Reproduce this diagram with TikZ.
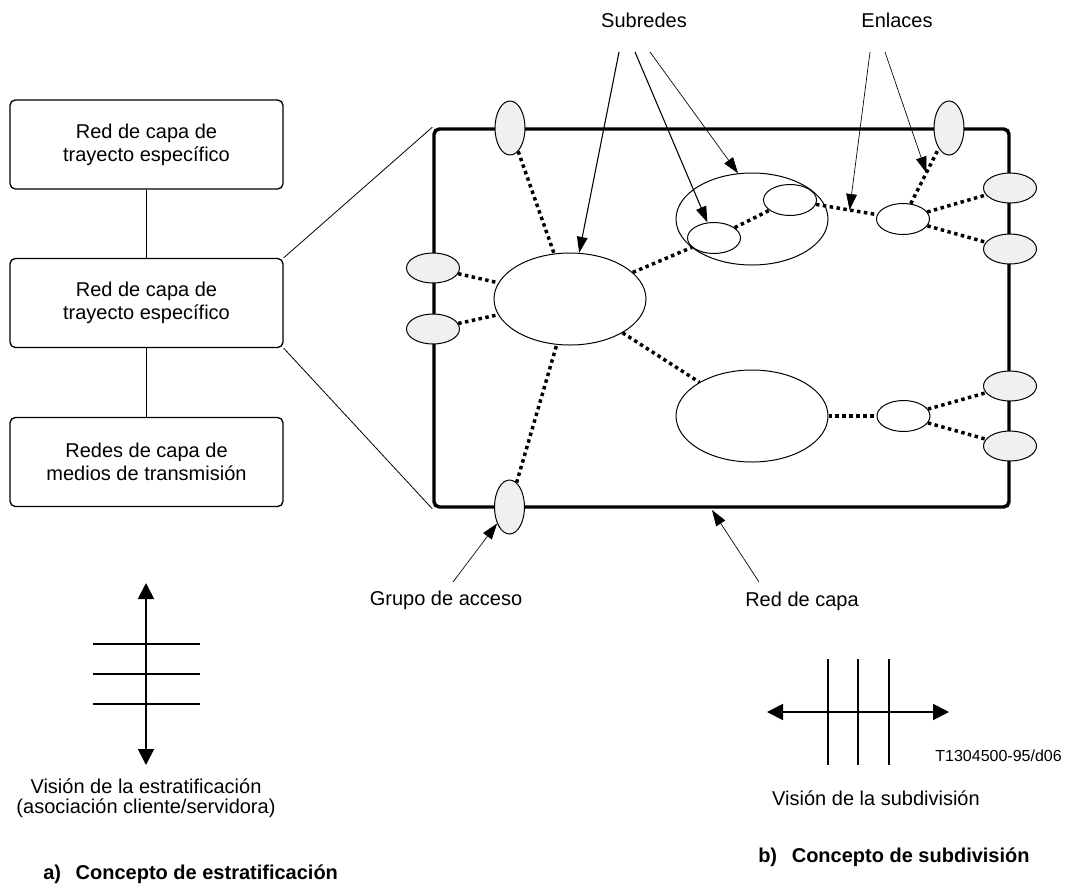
\documentclass[tikz,border=0pt]{standalone}
\usepackage{fontspec}
\setmainfont{Liberation Sans}
\usetikzlibrary{shapes.geometric,arrows.meta}
\begin{document}
\begin{tikzpicture}[x=0.75pt,y=-0.75pt,
  font=\fontsize{15}{17.5}\selectfont,
  layerbox/.style={draw, line width=1pt, rounded corners=4pt, minimum width=204.75pt,
                   minimum height=66.75pt, align=center, inner sep=0pt},
  netbox/.style={draw, line width=2.6pt, rounded corners=4pt, minimum width=431.25pt,
                 minimum height=283.5pt, inner sep=0pt},
  grpv/.style={ellipse, draw, line width=0.75pt, fill=gray!12, minimum width=22.5pt,
               minimum height=40.5pt, inner sep=0pt},
  grph/.style={ellipse, draw, line width=0.75pt, fill=gray!12, minimum width=39.75pt,
               minimum height=22.5pt, inner sep=0pt},
  bignet/.style={ellipse, draw, line width=0.75pt, minimum width=114pt,
                 minimum height=69pt, inner sep=0pt},
  subsmall/.style={ellipse, draw, line width=0.75pt, minimum width=39.75pt,
                   minimum height=23.25pt, inner sep=0pt},
  dotlink/.style={line width=2.6pt, dash pattern=on 2.6pt off 2.6pt},
  ptr/.style={-{Triangle[length=12pt,width=8pt]}, line width=0.8pt},
  ptrthin/.style={-{Triangle[length=12pt,width=8pt]}, line width=0.5pt},
  bigarrow/.style={{Triangle[length=12pt,width=12pt]}-{Triangle[length=12pt,width=12pt]}, line width=1.4pt},
  bar/.style={line width=1.1pt},
  thinbar/.style={line width=0.8pt},
  caption/.style={font=\fontsize{15}{17.5}\selectfont\bfseries, anchor=west, inner sep=0pt}
]
\useasboundingbox (0,0) rectangle (1067,890);

% layer stack
\node[layerbox] (b1) at (146.5,144.5) {Red de capa de\\trayecto específico};
\node[layerbox] (b2) at (146.5,303) {Red de capa de\\trayecto específico};
\node[layerbox] (b3) at (146.5,462) {Redes de capa de\\medios de transmisión};
\draw[line width=1pt] (b1) -- (b2);
\draw[line width=1pt] (b2) -- (b3);

% layer network frame
\node[netbox] (net) at (721.5,318) {};
\draw[line width=0.6pt] (b2.north east) -- (net.north west);
\draw[line width=0.6pt] (b2.south east) -- (net.south west);

% access groups
\node[grpv] (gt)  at (510,128) {};
\node[grpv] (gtr) at (949,128) {};
\node[grpv] (gb)  at (509.5,507) {};
\node[grph] (gl1) at (433,268) {};
\node[grph] (gl2) at (433,329) {};
\node[grph] (gr1) at (1010,188) {};
\node[grph] (gr2) at (1010,249) {};
\node[grph] (gr3) at (1010,386) {};
\node[grph] (gr4) at (1010,446) {};

% subnetworks
\node[bignet] (A) at (570,299) {};
\node[bignet] (B) at (752,416) {};
\node[bignet] (C) at (752,219) {};
\node[subsmall] (C1) at (714,238) {};
\node[subsmall] (C2) at (790,200) {};
\node[subsmall] (L1) at (903,219) {};
\node[subsmall] (L2) at (903.5,416) {};

% links
\draw[dotlink] (gt) -- (A);
\draw[dotlink] (gl1) -- (A);
\draw[dotlink] (gl2) -- (A);
\draw[dotlink] (gb) -- (A);
\draw[dotlink] (A) -- (C1);
\draw[dotlink] (A) -- (B);
\draw[dotlink] (C1) -- (C2);
\draw[dotlink] (C2) -- (L1);
\draw[dotlink] (L1) -- (gtr);
\draw[dotlink] (L1) -- (gr1);
\draw[dotlink] (L1) -- (gr2);
\draw[dotlink] (B) -- (L2);
\draw[dotlink] (L2) -- (gr3);
\draw[dotlink] (L2) -- (gr4);

% labels and pointers
\node (subr) at (644,20) {Subredes};
\node (enl) at (897,20) {Enlaces};
\node (grp) at (446,600) {Grupo de acceso};
\node (rdc) at (802,601) {Red de capa};

\coordinate (s1) at (619,52);
\coordinate (s2) at (635,52);
\coordinate (s3) at (650,52);
\coordinate (n1) at (870,52);
\coordinate (n2) at (885,52);
\coordinate (ga) at (453,582);
\coordinate (ra) at (759,582);
\coordinate (rt) at (712,510);
\path (C2) -- (L1) coordinate[pos=0.55] (e1);
\path (L1) -- (gtr) coordinate[pos=0.56] (e2);

\draw[ptr] (s1) -- (A);
\draw[ptr] (s2) -- (C1);
\draw[ptrthin] (s3) -- (C.107);
\draw[ptrthin] (n1) -- (e1);
\draw[ptrthin] (n2) -- (e2);
\draw[ptrthin] (ga) -- (gb);
\draw[ptrthin] (ra) -- (rt);

% stratification view
\coordinate (vt) at (146,583);
\coordinate (vb) at (146,765);
\draw[bigarrow] (vt) -- (vb);
\foreach \yy in {644,674,704} \draw[bar] (93,\yy) -- (200,\yy);
\node[align=center, font=\fontsize{15}{15}\selectfont] (vest) at (146,798)
  {Visión de la estratificación\\(asociación cliente/servidora)};

% partitioning view
\coordinate (hl) at (767,712);
\coordinate (hr) at (949,712);
\draw[bigarrow] (hl) -- (hr);
\foreach \xx in {828,858,889} \draw[thinbar] (\xx,659) -- (\xx,765);
\node (code) [anchor=east, inner sep=0pt, font=\fontsize{12}{14}\selectfont] at (1062,756) {T1304500-95/d06};
\node (vsub) at (876,798) {Visión de la subdivisión};

% captions
\node[caption] (capa) at (43,874) {a)\hspace{11pt}Concepto de estratificación};
\node[caption] (capb) at (758,857) {b)\hspace{11pt}Concepto de subdivisión};
\end{tikzpicture}
\end{document}
